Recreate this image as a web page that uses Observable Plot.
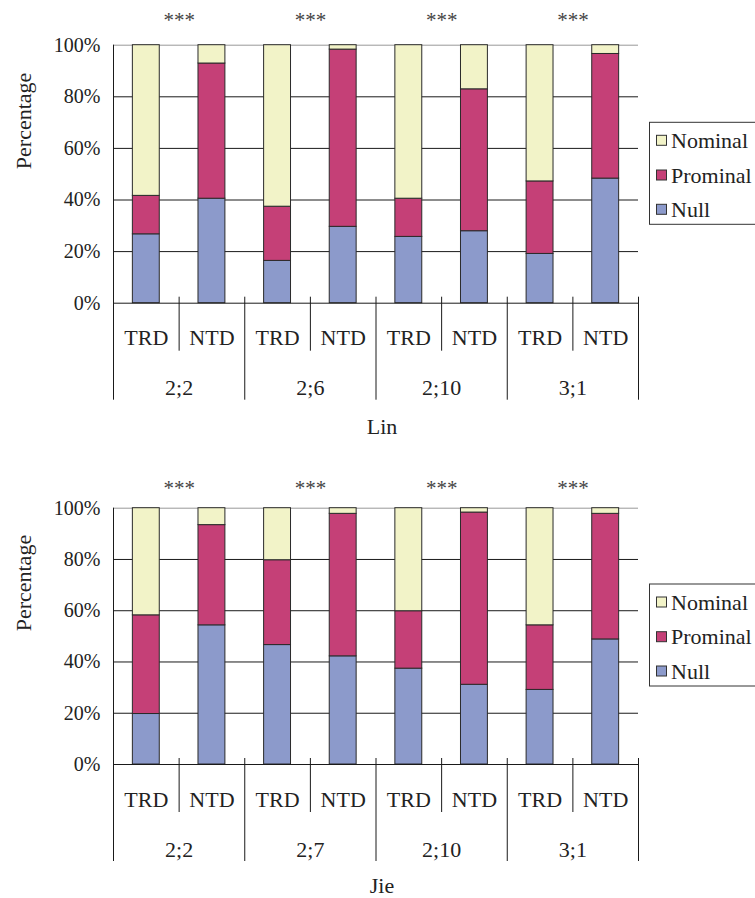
<!DOCTYPE html>
<html>
<head>
<meta charset="utf-8">
<script src="https://cdn.jsdelivr.net/npm/d3@7"></script>
<script src="https://cdn.jsdelivr.net/npm/@observablehq/plot@0.6"></script>
<style>
  body { margin: 0; background: #fff; }
  #charts svg { display: block; }
</style>
</head>
<body>
<div id="charts"></div>
<script>
// Response categories, stacked bottom-to-top
const categories = ["Null", "Prominal", "Nominal"];
const legendOrder = ["Nominal", "Prominal", "Null"];
const colors = ["#8C9ACB", "#C54077", "#F2F3C8"];
const conditions = ["TRD", "NTD"];
const yTicks = [0, 20, 40, 60, 80, 100];
const significance = ["***", "***", "***", "***"];

// Lin: percentages per age x condition (TRD, NTD)
const linAges = ["2;2", "2;6", "2;10", "3;1"];
const linNull     = [26.7, 40.5, 16.4, 29.6, 25.7, 27.9, 19.1, 48.3];
const linProminal = [14.9, 52.4, 21.0, 68.7, 14.8, 55.0, 28.1, 48.3];
const linNominal  = [58.4,  7.1, 62.6,  1.7, 59.5, 17.1, 52.8,  3.4];

// Jie: percentages per age x condition (TRD, NTD)
const jieAges = ["2;2", "2;7", "2;10", "3;1"];
const jieNull     = [19.7, 54.3, 46.6, 42.2, 37.4, 31.1, 29.1, 48.8];
const jieProminal = [38.5, 39.1, 33.1, 55.6, 22.4, 67.2, 25.2, 49.0];
const jieNominal  = [41.8,  6.6, 20.3,  2.2, 40.2,  1.7, 45.7,  2.2];

const FONT = "'Liberation Serif', 'Times New Roman', Times, serif";
const INK = "#222";

function makeChart({ages, series, speaker, height, marginBottom, starDy, titleDy, legendTop}) {
  const slots = ages.flatMap((age, g) =>
    conditions.map((cond, j) => ({age, cond, slot: g * 2 + j})));
  const rows = slots.flatMap((s) =>
    categories.map((cat, k) => ({slot: s.slot, cat, value: series[k][s.slot]})));
  const groups = ages.map((age, g) => ({age, g, star: significance[g]}));
  const nSlots = slots.length;

  const chart = Plot.plot({
    width: 755,
    height,
    marginLeft: 113,
    marginRight: 117,
    marginTop: 44.7,
    marginBottom,
    style: {fontFamily: FONT, color: INK, background: "#fff", overflow: "visible"},
    x: {domain: [0, nSlots], axis: null},
    y: {domain: [0, 100], axis: null},
    color: {domain: categories, range: colors},
    marks: [
      // horizontal gridlines
      Plot.ruleY(yTicks.filter((t) => t > 0 && t < 100), {stroke: "#1a1a1a", strokeWidth: 1}),
      Plot.ruleY([100], {stroke: "#999", strokeWidth: 1}),
      // stacked bars
      Plot.rectY(rows, {
        x1: (d) => d.slot + 0.295,
        x2: (d) => d.slot + 0.705,
        y: "value",
        fill: "cat",
        stroke: "#2a2a2a",
        strokeWidth: 1
      }),
      // baseline and value axis line
      Plot.ruleY([0], {stroke: "#1a1a1a", strokeWidth: 1}),
      Plot.ruleX([0], {y1: 0, y2: 100, stroke: "#1a1a1a", strokeWidth: 1}),
      // y tick labels
      Plot.axisY({ticks: yTicks, tickFormat: (d) => d + "%", tickSize: 0, tickPadding: 13,
                  fontSize: 20, label: null}),
      // category separators under the axis
      Plot.ruleX(slots.filter((s) => s.slot % 2 === 1).map((s) => s.slot),
        {y1: 0, y2: 0, insetTop: -6, insetBottom: -48, stroke: "#1a1a1a"}),
      Plot.ruleX(d3.range(0, nSlots + 1, 2),
        {y1: 0, y2: 0, insetTop: -6, insetBottom: -97, stroke: "#1a1a1a"}),
      // condition labels
      Plot.text(slots, {x: (d) => d.slot + 0.5, y: 0, text: "cond", dy: 35, fontSize: 22, fill: INK}),
      // age labels
      Plot.text(groups, {x: (d) => d.g * 2 + 1, y: 0, text: "age", dy: 85, fontSize: 22, fill: INK}),
      // significance markers
      Plot.text(groups, {x: (d) => d.g * 2 + 1, y: 100, text: "star", dy: starDy, fontSize: 21, fill: "#444"}),
      // speaker title
      Plot.text([speaker], {x: nSlots / 2, y: 0, text: (d) => d, dy: titleDy, dx: 6, fontSize: 22, fill: INK}),
      // y axis title
      Plot.text(["Percentage"], {frameAnchor: "left", text: (d) => d, dx: -90, dy: -5,
                                 rotate: -90, fontSize: 22, fill: INK})
    ]
  });

  // legend box on the right
  const svg = d3.select(chart);
  const lg = svg.append("g")
    .attr("font-family", FONT)
    .attr("font-size", 22)
    .attr("fill", INK)
    .attr("text-anchor", "start");
  lg.append("rect").attr("x", 649.5).attr("y", legendTop).attr("width", 120).attr("height", 102)
    .attr("fill", "#fff").attr("stroke", "#333");
  const offsets = [18, 52.7, 87];
  legendOrder.forEach((cat, i) => {
    const cy = legendTop + offsets[i];
    lg.append("rect").attr("x", 656.5).attr("y", cy - 5).attr("width", 10).attr("height", 10)
      .attr("fill", colors[categories.indexOf(cat)]).attr("stroke", "#333");
    lg.append("text").attr("x", 671).attr("y", cy).attr("dy", "0.35em")
      .attr("text-anchor", "start").text(cat);
  });
  return chart;
}

const root = document.getElementById("charts");
root.appendChild(makeChart({
  ages: linAges,
  series: [linNull, linProminal, linNominal],
  speaker: "Lin",
  height: 463,
  marginBottom: 160.3,
  starDy: -25,
  titleDy: 124,
  legendTop: 122.3
}));
root.appendChild(makeChart({
  ages: jieAges,
  series: [jieNull, jieProminal, jieNominal],
  speaker: "Jie",
  height: 435,
  marginBottom: 134,
  starDy: -20,
  titleDy: 121,
  legendTop: 121
}));
</script>
</body>
</html>
